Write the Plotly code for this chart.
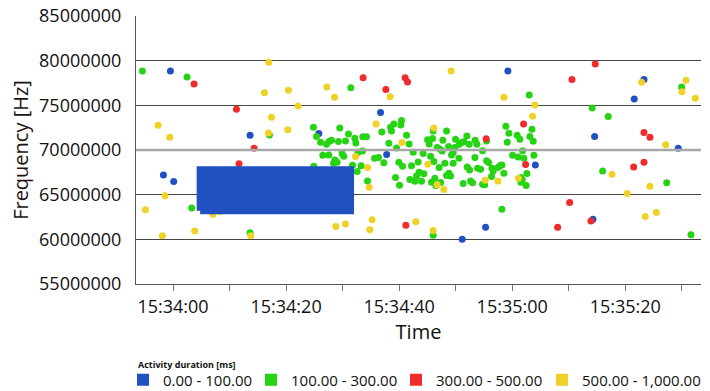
import pandas as pd
import plotly.graph_objects as go

BASE = "2020-01-01 15:34:00"

# ---- data: time in seconds after 15:34:00, frequency in MHz ----
# dense block of 0-100 ms activities (extent of the solid region)
blue_block_t = [4.8, 31.4]
blue_block_f = [63.2, 67.8]

blue_t = [-0.46, -1.70, 0.12, 13.63, 25.79, 36.71, 37.79, 64.1, 59.24, 74.58, 81.59, 83.31, 89.38, 74.28, 55.29, 51.15]
blue_f = [78.85, 67.21, 66.46, 71.65, 71.86, 74.20, 69.51, 68.33, 78.85, 71.50, 75.72, 77.88, 70.20, 62.26, 61.36, 60.02]

green_t = [-5.42, 2.48, 3.31, 13.63, 17.06, 31.45, 63.01, 74.16, 76.99, 76.00, 87.33, 89.98, 91.63, 58.18, 46.02,
           24.83, 25.38, 26.09, 27.15, 27.61, 28.04, 29.27, 29.50, 30.51, 31.04, 32.16, 32.34, 33.58, 34.23, 32.74,
           33.52, 26.50, 27.56, 29.91, 30.21, 28.62, 29.03, 28.39, 24.90, 31.75, 31.40, 32.57, 33.27, 35.65, 36.35,
           37.29, 36.94, 38.18, 38.48, 39.06, 38.65, 40.42, 40.30, 41.31, 39.54, 41.77, 42.48, 39.95, 40.60, 42.19,
           43.36, 44.25, 43.54, 43.08, 44.37, 39.36, 41.89, 42.78, 43.96, 40.07, 34.41,
           46.02, 45.91, 45.03, 45.31, 48.39, 47.73, 46.73, 47.20, 47.61, 48.74, 49.98, 49.86, 50.62, 51.04, 51.45,
           51.98, 52.39, 53.45, 53.75, 55.47, 54.76, 49.56, 49.27, 50.57, 45.56, 46.14, 48.09, 47.08, 49.56, 53.40,
           55.47, 55.82, 52.04, 52.46, 53.88, 54.41, 56.41, 56.64, 57.47, 57.82, 58.18, 58.53, 56.35, 46.32, 45.73,
           46.50, 47.33, 48.80, 49.10, 48.39, 51.33, 52.64, 52.99, 54.76, 55.12, 58.88, 59.42, 60.88, 61.36, 59.12,
           63.49, 63.13, 63.72, 61.84, 60.07, 61.06, 62.07, 63.84, 62.60, 61.54, 61.77, 61.54, 62.48]
green_f = [78.85, 78.18, 63.52, 60.73, 71.69, 76.98, 76.16, 74.71, 73.74, 67.66, 66.32, 77.06, 60.50, 63.38, 60.47,
           72.55, 71.50, 70.87, 70.65, 70.94, 71.10, 70.94, 72.47, 71.02, 71.80, 71.32, 70.79, 71.47, 71.47, 69.75,
           69.90, 69.42, 69.45, 69.60, 69.31, 68.89, 68.64, 68.52, 68.19, 68.30, 67.81, 67.58, 68.25, 69.08, 69.15,
           68.56, 72.02, 70.76, 72.55, 72.92, 72.14, 73.29, 72.81, 71.66, 70.23, 70.68, 69.75, 68.64, 68.19, 68.25,
           68.67, 69.60, 67.52, 67.10, 67.33, 66.91, 66.69, 66.51, 66.51, 66.06, 66.54,
           72.14, 71.28, 71.16, 70.68, 72.14, 71.10, 70.27, 70.12, 69.90, 70.38, 71.21, 70.27, 70.65, 70.83, 70.91,
           71.58, 70.65, 71.10, 70.65, 71.02, 69.93, 69.71, 69.45, 69.08, 69.31, 68.70, 68.52, 68.03, 68.52, 69.15,
           68.81, 68.59, 68.11, 67.77, 67.96, 67.85, 67.96, 67.66, 68.03, 68.25, 68.33, 67.40, 67.02, 66.85, 66.40,
           66.02, 66.35, 67.40, 67.10, 67.14, 66.24, 66.54, 66.32, 66.17, 66.10, 72.66, 71.88, 71.66, 71.21, 70.87,
           72.33, 71.50, 70.98, 69.93, 69.42, 69.23, 69.08, 69.42, 67.36, 66.91, 66.66, 66.40, 66.02]

red_t = [3.72, 11.22, 14.34, 11.68, 33.63, 37.65, 41.06, 41.49, 41.19, 74.69, 70.57, 62.02, 55.40, 62.37, 83.31,
         84.37, 81.49, 83.31, 70.16, 68.04, 73.93]
red_f = [77.39, 74.56, 70.20, 68.45, 78.10, 76.76, 78.10, 77.62, 61.59, 79.63, 77.88, 72.92, 71.27, 68.37, 71.95,
         71.43, 68.11, 68.64, 64.12, 61.36, 62.04]

yellow_t = [-2.65, -0.58, -1.42, -4.88, -1.88, 3.84, 7.08, 8.39, 16.94, 16.18, 20.42, 22.12, 17.42, 20.30, 16.88,
            13.75, 27.20, 28.57, 38.41, 35.93, 40.48, 32.28, 34.41, 34.69, 28.80, 30.51, 35.22, 34.81, 42.96, 49.20,
            46.14, 45.08, 46.73, 47.91, 46.02, 58.53, 64.02, 63.61, 55.22, 57.47, 61.10, 82.90, 90.74, 90.04, 92.39,
            87.15, 77.65, 84.37, 80.35, 83.54, 85.49]
yellow_f = [72.77, 71.43, 64.87, 63.30, 60.39, 60.92, 62.82, 63.11, 79.82, 76.42, 76.69, 74.93, 73.67, 72.28, 71.91,
            60.39, 77.06, 75.91, 75.97, 72.92, 70.85, 69.26, 68.03, 65.82, 61.43, 61.73, 62.18, 61.06, 61.96, 78.85,
            72.47, 68.41, 66.10, 65.59, 60.98, 75.91, 75.04, 73.79, 66.62, 66.54, 66.85, 77.58, 77.81, 76.53, 75.79,
            70.60, 67.29, 65.95, 65.12, 62.55, 63.00]

legend_title = "Activity duration [ms]"
legend_labels = ["0.00 - 100.00", "100.00 - 300.00", "300.00 - 500.00", "500.00 - 1,000.00"]
colors = ["#2150C2", "#26D414", "#F02B2B", "#F0D126"]

y_ticks = [55000000, 60000000, 65000000, 70000000, 75000000, 80000000, 85000000]
x_range_s = [-6.55, 93.4]
highlight_f = 70000000

W, H = 710, 391
legend_x_px = [123, 251, 396, 542]   # left edge of each legend entry


def to_time(sec):
    return pd.Timestamp(BASE) + pd.to_timedelta(pd.Series(sec, dtype=float), unit="s")


def to_hz(mhz):
    return [v * 1e6 for v in mhz]


fig = go.Figure()

# points partly hidden behind the dense block are drawn first
series = [(blue_t, blue_f), (green_t, green_f), (red_t, red_f), (yellow_t, yellow_f)]
for (t, f), c in zip(series, colors):
    fig.add_trace(go.Scatter(x=to_time(t), y=to_hz(f), mode="markers",
                             marker=dict(color=c, size=7, line=dict(width=0)),
                             showlegend=False))

# dense blue block (0-100 ms) as a filled region
bt = [blue_block_t[0], blue_block_t[1], blue_block_t[1], blue_block_t[0], blue_block_t[0]]
bf = [blue_block_f[0], blue_block_f[0], blue_block_f[1], blue_block_f[1], blue_block_f[0]]
fig.add_trace(go.Scatter(x=to_time(bt), y=to_hz(bf), mode="lines", fill="toself",
                         fillcolor=colors[0], line=dict(color=colors[0], width=7),
                         showlegend=False, hoverinfo="skip"))

legend_names = ["legend", "legend2", "legend3", "legend4"]
for lab, c, lg in zip(legend_labels, colors, legend_names):
    fig.add_trace(go.Scatter(x=[None], y=[None], mode="markers", name=lab, legend=lg,
                             marker=dict(color=c, size=12, symbol="square", line=dict(width=0))))

fig.add_shape(type="line", xref="paper", x0=0, x1=1, yref="y", y0=highlight_f, y1=highlight_f,
              line=dict(color="#A8A8A8", width=2.5), layer="above")

fig.add_annotation(text="<b>" + legend_title + "</b>", xref="paper", yref="paper",
                   x=0, y=-(364 - 284) / 268, xanchor="left", yanchor="middle", showarrow=False,
                   font=dict(size=9, family="Open Sans", color="#111111"))

legend_common = dict(orientation="h", xref="container", yref="container",
                     y=1 - 380 / H, yanchor="middle", xanchor="left",
                     font=dict(size=15, family="Open Sans", color="#111111"),
                     itemsizing="trace", bgcolor="rgba(0,0,0,0)")
legends = {}
for lg, px in zip(legend_names, legend_x_px):
    legends[lg] = dict(legend_common, x=px / W)

fig.update_layout(
    width=W, height=H,
    margin=dict(l=136, r=9, t=16, b=107, autoexpand=False),
    plot_bgcolor="white", paper_bgcolor="white",
    font=dict(family="Open Sans", color="#111111"),
    showlegend=True,
    **legends,
    xaxis=dict(
        type="date",
        range=list(to_time(x_range_s)),
        tickformat="%H:%M:%S",
        dtick=20000, tick0=BASE,
        ticks="outside", ticklen=6, tickcolor="#777777",
        minor=dict(dtick=10000, ticks="outside", ticklen=6, tickcolor="#777777", showgrid=False),
        showgrid=False, showline=True, linecolor="#555555", linewidth=1,
        tickfont=dict(size=18, family="Open Sans", color="#111111"),
        title=dict(text="Time", font=dict(size=20, family="Open Sans", color="#111111"), standoff=8),
        zeroline=False, automargin=False,
    ),
    yaxis=dict(
        range=[55000000, 85000000],
        tickvals=y_ticks, ticktext=[str(v) for v in y_ticks],
        ticks="", ticklabelstandoff=10,
        showgrid=True, gridcolor="#444444", gridwidth=1,
        showline=True, linecolor="#555555", linewidth=1,
        tickfont=dict(size=18, family="Open Sans", color="#111111"),
        title=dict(text="Frequency [Hz]", font=dict(size=20, family="Open Sans", color="#221111"), standoff=5),
        zeroline=False, automargin=False,
    ),
)

fig.write_html("out.html", config={"displayModeBar": False},
               post_script="document.body.style.margin='0';")
